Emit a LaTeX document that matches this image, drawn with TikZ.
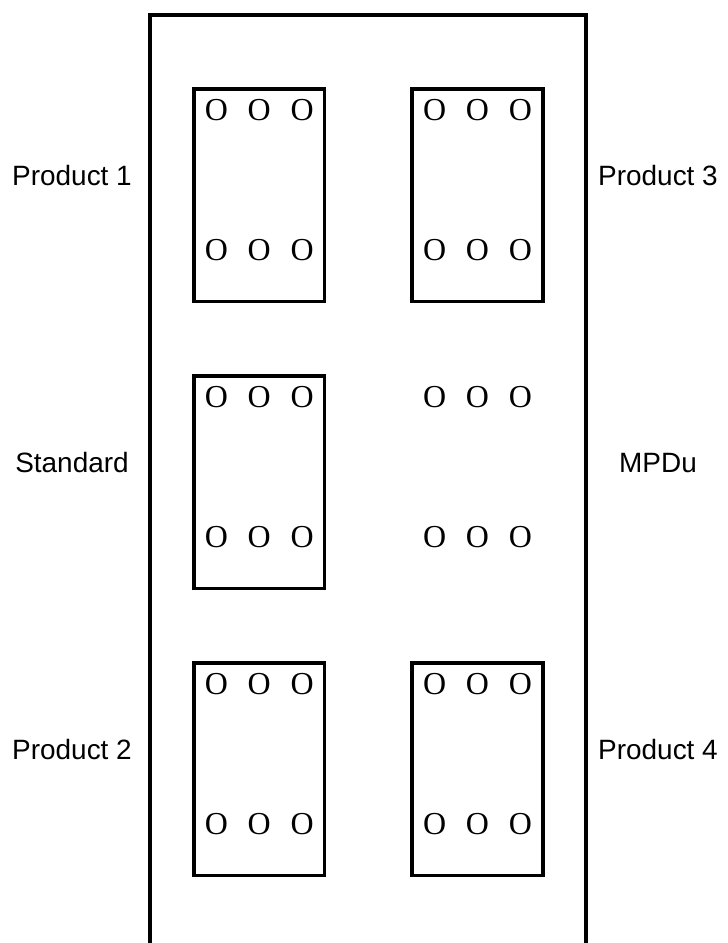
\documentclass[tikz,border=0pt]{standalone}
\usepackage{fontspec}
\setmainfont{Liberation Serif}
\setsansfont{Liberation Sans}
\usepackage{tikz}
\tikzset{rack/.style = {line width=2.2pt},
  slot/.style = {draw, line width=2.2pt, minimum width=2.61cm, minimum height=4.25cm, inner sep=0pt},
  pins/.style = {font=\fontsize{18.2}{18.2}\selectfont, inner sep=0pt},
  lbl/.style = {font=\sffamily\fontsize{15.9}{15.9}\selectfont, inner sep=0pt}}
\newcommand{\ooo}{O\hspace{.62em}O\hspace{.62em}O}

\begin{document}
\begin{tikzpicture}
  \useasboundingbox (0,0) rectangle (14.56,-18.86);
  \draw[rack] (3.0,-18.9) -- (3.0,-0.3) -- (11.72,-0.3) -- (11.72,-18.9);
  \node[slot] (P1) at (5.185,-3.905) {};
  \node[slot] (P3) at (9.55,-3.905) {};
  \node[slot] (S) at (5.185,-9.645) {};
  \coordinate (M) at (9.55,-9.645);
  \node[slot] (P2) at (5.185,-15.385) {};
  \node[slot] (P4) at (9.55,-15.385) {};
  \node[pins] (P1t) at ([yshift=1.705cm]P1.center) {\ooo};
  \node[pins] (P1b) at ([yshift=-1.095cm]P1.center) {\ooo};
  \node[pins] (P3t) at ([yshift=1.705cm]P3.center) {\ooo};
  \node[pins] (P3b) at ([yshift=-1.095cm]P3.center) {\ooo};
  \node[pins] (St) at ([yshift=1.705cm]S.center) {\ooo};
  \node[pins] (Sb) at ([yshift=-1.095cm]S.center) {\ooo};
  \node[pins] (Mt) at ([yshift=1.705cm]M) {\ooo};
  \node[pins] (Mb) at ([yshift=-1.095cm]M) {\ooo};
  \node[pins] (P2t) at ([yshift=1.705cm]P2.center) {\ooo};
  \node[pins] (P2b) at ([yshift=-1.095cm]P2.center) {\ooo};
  \node[pins] (P4t) at ([yshift=1.705cm]P4.center) {\ooo};
  \node[pins] (P4b) at ([yshift=-1.095cm]P4.center) {\ooo};
  \node[lbl] (L1) at (1.44,-3.52) {Product 1};
  \node[lbl] (L2) at (1.44,-9.26) {Standard};
  \node[lbl] (L3) at (1.44,-15.0) {Product 2};
  \node[lbl] (R1) at (13.16,-3.52) {Product 3};
  \node[lbl] (R2) at (13.16,-9.26) {MPDu};
  \node[lbl] (R3) at (13.16,-15.0) {Product 4};
\end{tikzpicture}
\end{document}
